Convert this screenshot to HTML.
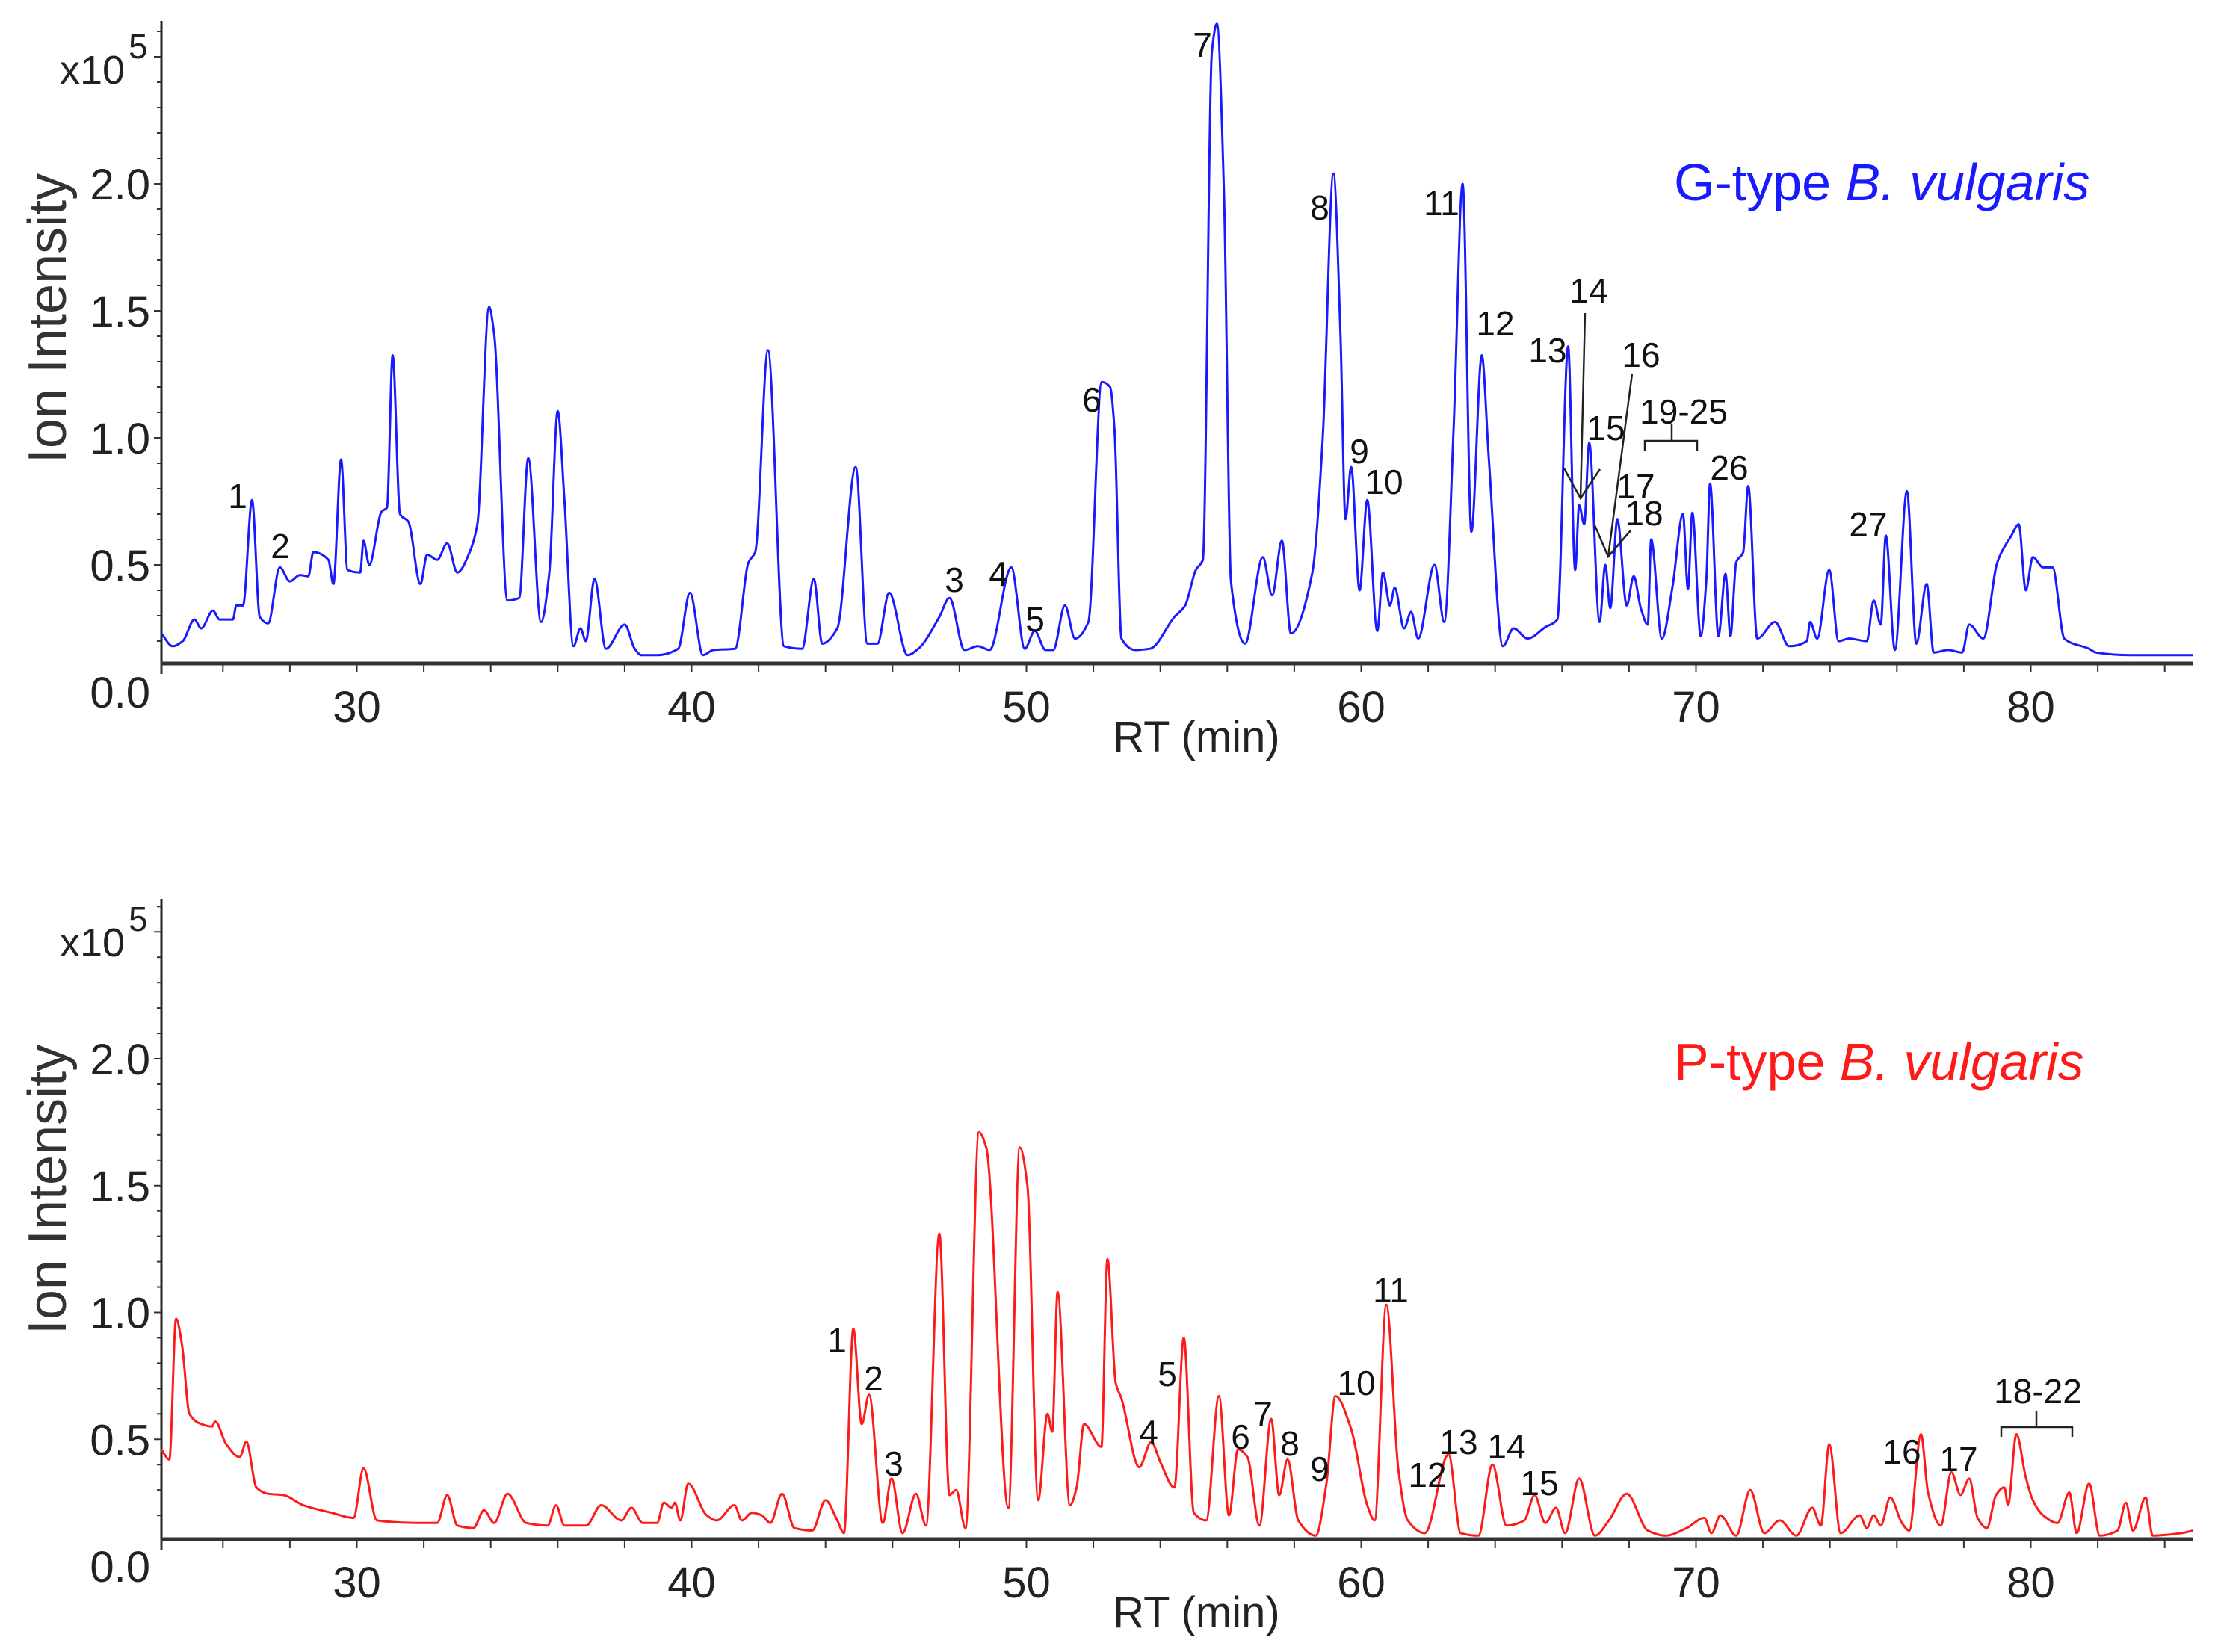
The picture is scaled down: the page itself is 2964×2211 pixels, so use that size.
<!DOCTYPE html>
<html><head><meta charset="utf-8"><style>
html,body{margin:0;padding:0;background:#fff;}
svg{display:block;}
text{font-family:"Liberation Sans",sans-serif;}
</style></head><body>
<svg id="chart" width="2964" height="2211" viewBox="0 0 2964 2211" xmlns="http://www.w3.org/2000/svg">
<rect width="2964" height="2211" fill="#fff"/>
</svg>
<script>
// ---------- data ----------
const gTimes=[24.16,24.5,24.8,25.15,25.35,25.7,25.9,26.3,26.4,26.6,26.87,27.1,27.35,27.7,28.0,28.3,28.55,28.7,29.15,29.3,29.53,29.72,30.1,30.2,30.37,30.74,30.9,31.07,31.29,31.54,31.9,32.1,32.4,32.7,33.0,33.37,33.6,33.95,34.1,34.5,34.85,35.12,35.5,35.75,36.0,36.2,36.47,36.68,36.84,37.1,37.44,38.0,38.3,38.5,38.97,39.6,39.95,40.34,40.65,41.3,41.7,41.9,42.28,42.76,43.3,43.65,43.9,44.35,44.9,45.25,45.55,45.9,46.45,46.77,47.4,47.7,48.15,48.55,48.9,49.55,49.95,50.25,50.57,50.8,51.15,51.45,51.85,52.25,52.5,52.63,52.84,53.26,53.69,54.42,54.74,55.06,55.27,55.54,55.69,55.9,56.11,56.53,57.06,57.34,57.63,57.9,58.54,58.85,59.17,59.38,59.53,59.7,59.95,60.18,60.48,60.65,60.86,61.0,61.28,61.49,61.7,62.19,62.48,62.76,63.03,63.29,63.6,63.81,64.23,64.55,64.97,65.5,65.86,66.18,66.39,66.51,66.66,66.81,67.12,67.29,67.44,67.65,67.93,68.14,68.35,68.56,68.66,68.98,69.3,69.61,69.76,69.89,70.14,70.31,70.42,70.67,70.88,71.03,71.2,71.41,71.56,71.83,72.36,72.78,73.31,73.41,73.62,73.98,74.26,74.57,75.1,75.31,75.52,75.67,75.94,76.3,76.58,76.89,77.1,77.53,77.95,78.16,78.58,79.0,79.42,79.64,79.85,80.06,80.37,80.65,81.0,81.74,81.95,83.0,84.6,84.85];
const gValues=[0.23,0.18,0.20,0.285,0.25,0.32,0.285,0.285,0.34,0.34,0.755,0.295,0.27,0.49,0.435,0.46,0.455,0.55,0.52,0.425,0.915,0.48,0.47,0.595,0.5,0.71,0.725,1.325,0.70,0.67,0.425,0.54,0.52,0.585,0.47,0.55,0.66,1.515,1.41,0.36,0.37,0.92,0.275,0.47,1.105,0.755,0.18,0.25,0.20,0.445,0.17,0.265,0.17,0.145,0.145,0.17,0.39,0.145,0.165,0.17,0.51,0.55,1.345,0.18,0.17,0.445,0.19,0.25,0.885,0.19,0.19,0.39,0.145,0.17,0.295,0.37,0.165,0.18,0.165,0.49,0.17,0.24,0.165,0.165,0.34,0.21,0.275,1.22,1.20,1.035,0.21,0.165,0.17,0.295,0.34,0.48,0.52,2.52,2.63,1.97,0.435,0.19,0.53,0.38,0.595,0.23,0.47,1.0,2.04,1.41,0.68,0.885,0.40,0.755,0.24,0.47,0.34,0.41,0.25,0.315,0.21,0.50,0.275,1.035,2.0,0.63,1.325,0.92,0.18,0.25,0.21,0.255,0.285,1.36,0.48,0.735,0.66,0.98,0.275,0.50,0.33,0.68,0.34,0.455,0.33,0.265,0.60,0.21,0.415,0.70,0.405,0.705,0.22,0.445,0.82,0.22,0.465,0.22,0.51,0.55,0.81,0.21,0.275,0.18,0.20,0.275,0.21,0.48,0.20,0.21,0.20,0.36,0.265,0.615,0.165,0.79,0.19,0.425,0.155,0.165,0.155,0.265,0.21,0.51,0.615,0.66,0.40,0.53,0.49,0.49,0.21,0.17,0.155,0.145,0.145,0.145];
const pTimes=[24.16,24.4,24.6,24.78,25.0,25.35,25.67,25.77,26.1,26.5,26.7,27.0,27.35,27.8,28.4,29.25,29.9,30.2,30.6,32.0,32.4,32.7,33.0,33.48,33.8,34.1,34.5,35.06,35.7,35.95,36.2,36.85,37.3,37.9,38.2,38.54,38.97,39.17,39.4,39.5,39.66,39.9,40.45,40.75,41.28,41.5,41.8,42.1,42.35,42.7,43.07,43.6,44.0,44.35,44.55,44.83,45.08,45.3,45.71,45.97,46.3,46.7,47.0,47.4,47.7,47.9,48.18,48.58,48.8,49.46,49.8,50.03,50.35,50.63,50.77,50.93,51.3,51.5,51.72,52.24,52.42,52.67,52.84,53.37,53.73,54.0,54.42,54.7,55.0,55.37,55.75,56.05,56.32,56.6,56.96,57.31,57.55,57.8,58.12,58.64,58.96,59.23,59.7,60.18,60.4,60.75,61.11,61.39,61.9,62.61,62.97,63.5,63.92,64.34,64.87,65.18,65.5,65.82,66.09,66.51,66.98,67.4,67.93,68.56,69.09,69.72,70.25,70.46,70.73,71.2,71.62,72.04,72.5,73.0,73.47,73.73,73.98,74.32,74.89,75.1,75.31,75.52,75.8,76.15,76.37,76.72,76.93,77.31,77.63,77.9,78.16,78.41,78.69,78.96,79.21,79.32,79.57,79.85,80.06,80.37,80.8,81.15,81.37,81.74,82.06,82.59,82.84,83.05,83.43,83.64,84.5,84.85];
const pValues=[0.46,0.42,0.975,0.87,0.60,0.56,0.55,0.57,0.48,0.43,0.49,0.31,0.285,0.28,0.24,0.21,0.19,0.385,0.18,0.17,0.17,0.28,0.16,0.15,0.22,0.17,0.285,0.17,0.16,0.24,0.16,0.16,0.24,0.18,0.23,0.17,0.17,0.25,0.23,0.25,0.18,0.325,0.20,0.18,0.24,0.18,0.21,0.20,0.17,0.285,0.15,0.14,0.26,0.18,0.13,0.935,0.56,0.675,0.17,0.345,0.13,0.285,0.16,1.31,0.28,0.30,0.15,1.71,1.65,0.23,1.65,1.50,0.26,0.60,0.53,1.08,0.24,0.31,0.56,0.47,1.21,0.72,0.66,0.39,0.49,0.41,0.31,0.90,0.21,0.18,0.67,0.20,0.46,0.43,0.16,0.58,0.28,0.42,0.18,0.12,0.325,0.67,0.54,0.24,0.18,1.03,0.38,0.18,0.13,0.44,0.13,0.12,0.40,0.16,0.18,0.28,0.17,0.23,0.13,0.345,0.12,0.18,0.285,0.14,0.12,0.15,0.19,0.13,0.20,0.12,0.30,0.13,0.18,0.12,0.23,0.16,0.48,0.13,0.20,0.15,0.20,0.16,0.27,0.17,0.14,0.52,0.29,0.16,0.37,0.28,0.345,0.19,0.15,0.28,0.31,0.24,0.52,0.35,0.26,0.20,0.17,0.29,0.13,0.325,0.12,0.14,0.25,0.14,0.27,0.12,0.13,0.14];
const xTickLabels=[30,40,50,60,70,80];
const yTickLabels=["0.0","0.5","1.0","1.5","2.0"];
const gPeakLabels=[["1",318,663],["2",375,730],["3",1277,775],["4",1336,767],["5",1385,828],["6",1461,534],["7",1609,59],["8",1766,277],["9",1819,603],["10",1852,644],["11",1929,271],["12",2001,432],["13",2071,468],["14",2126,388],["15",2149,572],["16",2196,474],["17",2189,650],["18",2200,686],["19-25",2253,550],["26",2314,625],["27",2500,701]];
const pPeakLabels=[["1",1120,1793],["2",1169,1844],["3",1196,1958],["4",1537,1916],["5",1562,1838],["6",1660,1922],["7",1690,1891],["8",1726,1931],["9",1766,1965],["10",1815,1850],["11",1861,1726],["12",1910,1973],["13",1952,1929],["14",2016,1935],["15",2060,1984],["16",2545,1942],["17",2621,1952],["18-22",2727,1861]];

// ---------- helpers ----------
const NS="http://www.w3.org/2000/svg";
const svg=document.getElementById('chart');
function mk(tag,attrs,parent){const e=document.createElementNS(NS,tag);for(const k in attrs)e.setAttribute(k,attrs[k]);(parent||svg).appendChild(e);return e;}
const xScale=t=>477.5+(t-30)*44.8;
const X0=216, X1=2935;

// monotone cubic path (Fritsch-Carlson)
function monotonePath(xs,ys){
  const n=xs.length;const dx=[],m=[],s=[];
  for(let i=0;i<n-1;i++){dx[i]=xs[i+1]-xs[i];s[i]=(ys[i+1]-ys[i])/dx[i];}
  m[0]=s[0];m[n-1]=s[n-2];
  for(let i=1;i<n-1;i++){ if(s[i-1]*s[i]<=0) m[i]=0; else { m[i]=3*(dx[i-1]+dx[i])/((2*dx[i]+dx[i-1])/s[i-1]+(dx[i]+2*dx[i-1])/s[i]); } }
  let d='M'+xs[0].toFixed(1)+','+ys[0].toFixed(1);
  for(let i=0;i<n-1;i++){const h=dx[i]/3;
    d+=' C'+(xs[i]+h).toFixed(1)+','+(ys[i]+m[i]*h).toFixed(1)+' '+(xs[i+1]-h).toFixed(1)+','+(ys[i+1]-m[i+1]*h).toFixed(1)+' '+xs[i+1].toFixed(1)+','+ys[i+1].toFixed(1);}
  return d;
}

function panel(cfg){
  const g=mk('g',{});
  
  
  const yScale=v=>cfg.zeroY-v*cfg.perUnit;
  const ya=mk('line',{x1:X0,y1:cfg.axisTop,x2:X0,y2:cfg.baseY,stroke:'#222','stroke-width':3},g);
  
  
  for(let i=0;i<=26;i++){const v=i*0.1;const y=yScale(v);if(y<cfg.axisTop||y>cfg.baseY+1)continue;
    const len=(i%5===0)?10:6;
    mk('line',{x1:X0-len,y1:y,x2:X0,y2:y,stroke:'#333','stroke-width':2},g);}
  yTickLabels.forEach(s=>{const t=mk('text',{x:201,y:yScale(parseFloat(s))+21,'font-size':58,'text-anchor':'end',fill:'#222'},g);t.textContent=s;
    
    });
  const xa=mk('line',{x1:X0,y1:cfg.baseY,x2:X1,y2:cfg.baseY,stroke:'#333','stroke-width':5},g);
  
  
  for(let t=26;t<=84;t+=2){mk('line',{x1:xScale(t),y1:cfg.baseY+2,x2:xScale(t),y2:cfg.baseY+12,stroke:'#333','stroke-width':2},g);}
  mk('line',{x1:X0,y1:cfg.baseY,x2:X0,y2:cfg.baseY+14,stroke:'#333','stroke-width':3},g);
  xTickLabels.forEach(v=>{const t=mk('text',{x:xScale(v),y:cfg.baseY+78,'font-size':58,'text-anchor':'middle',fill:'#222'},g);t.textContent=v;
    
    });
  const xt=mk('text',{x:1601,y:cfg.baseY+118,'font-size':58,'text-anchor':'middle',fill:'#222'},g);xt.textContent='RT (min)';
  
  
  const yt=mk('text',{x:0,y:0,'font-size':72,'text-anchor':'middle',fill:'#333',transform:`translate(88,${cfg.yTitleY}) rotate(-90)`},g);yt.textContent='Ion Intensity';
  
  
  const ex=mk('text',{x:80,y:cfg.expY,'font-size':54,fill:'#222'},g);ex.textContent='x10';
  
  
  const e5=mk('text',{x:172,y:cfg.expY-34,'font-size':46,fill:'#222'},g);e5.textContent='5';
  
  
  const d=monotonePath(cfg.times.map(xScale),cfg.values.map(yScale));
  const p=mk('path',{d:d,fill:'none',stroke:cfg.color,'stroke-width':3,'stroke-linejoin':'round'},g);
  
  
  const tt=mk('text',{x:cfg.titleX,y:cfg.titleY,'font-size':70,fill:cfg.color},g);
  
  
  tt.innerHTML=cfg.titleA+'<tspan font-style="italic">B. vulgaris</tspan>';
  cfg.labels.forEach(l=>{const t=mk('text',{x:l[1],y:l[2]+17,'font-size':46,'text-anchor':'middle',fill:'#111'},g);t.textContent=l[0];
    
    });
  return g;
}
panel({name:'g-type-panel',seriesName:'g-type-trace',color:'#1a1aff',times:gTimes,values:gValues,zeroY:926,perUnit:340,axisTop:28,baseY:888,yTitleY:426,expY:112,titleX:2240,titleY:268,titleA:'G-type ',labels:gPeakLabels});
panel({name:'p-type-panel',seriesName:'p-type-trace',color:'#ff1a1a',times:pTimes,values:pValues,zeroY:2096,perUnit:339.5,axisTop:1203,baseY:2060,yTitleY:1592,expY:1280,titleX:2240,titleY:1445,titleA:'P-type ',labels:pPeakLabels});
const ann=[
 'M2121,419 L2115,667 M2093,627 L2115,667 L2141,628',
 'M2184,500 L2152,745 M2134,703 L2152,745 L2182,710',
 'M2201,603 L2201,590 L2271,590 L2271,603 M2237,590 L2237,568',
 'M2678,1923 L2678,1910 L2773,1910 L2773,1923 M2725,1910 L2725,1889'];
ann.forEach(d=>{const a=mk('path',{d:d,fill:'none',stroke:'#222','stroke-width':2.5});
 
 });
</script>
</body></html>
